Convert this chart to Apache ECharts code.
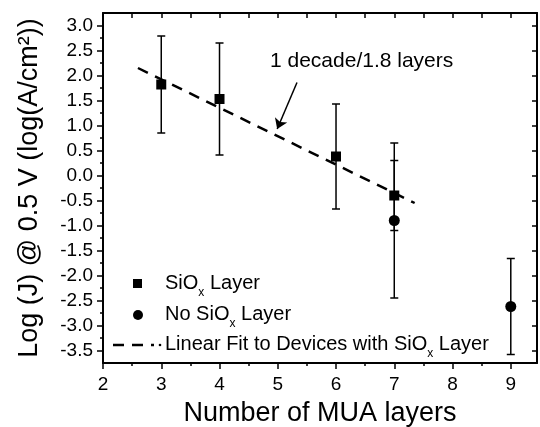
<!DOCTYPE html>
<html>
<head>
<meta charset="utf-8">
<script src="https://cdn.jsdelivr.net/npm/echarts@6/dist/echarts.min.js"></script>
<style>
  html, body { margin: 0; padding: 0; background: #fff; }
  #chart { width: 540px; height: 427px; }
</style>
</head>
<body>
<div id="chart"></div>
<script>
// devices with SiOx layer
var sioxLayers = [3, 4, 6, 7];
var sioxJ = [1.82, 1.53, 0.38, -0.40];
var sioxErr = [0.97, 1.12, 1.05, 0.70];
// devices without SiOx layer
var noSioxLayers = [7, 9];
var noSioxJ = [-0.90, -2.62];
var noSioxErr = [1.55, 0.96];
// linear fit (1 decade / 1.8 layers)
var fitLayers = [2.6, 7.35];
var fitJ = [2.15, -0.55];
// annotation arrow
var arrowFrom = [5.33, 1.86];
var arrowTo = [4.99, 0.93];
// ticks
var xTicks = [2, 3, 4, 5, 6, 7, 8, 9];
var xMinorTicks = [2.5, 3.5, 4.5, 5.5, 6.5, 7.5, 8.5];
var yTicks = [-3.5, -3.0, -2.5, -2.0, -1.5, -1.0, -0.5, 0.0, 0.5, 1.0, 1.5, 2.0, 2.5, 3.0];
var yMinorTicks = [-3.25, -2.75, -2.25, -1.75, -1.25, -0.75, -0.25, 0.25, 0.75, 1.25, 1.75, 2.25, 2.75];

var font = 'Liberation Sans, Arial, sans-serif';
var xMin = 2, xMax = 9.45, yMin = -3.75, yMax = 3.25;

function errorBars(xs, ys, errs) {
  return {
    type: 'custom',
    data: xs.map(function (x, i) { return [x, ys[i] - errs[i], ys[i] + errs[i]]; }),
    encode: { x: 0, y: [1, 2] },
    z: 1,
    renderItem: function (params, api) {
      var lo = api.coord([api.value(0), api.value(1)]);
      var hi = api.coord([api.value(0), api.value(2)]);
      var w = 4;
      var st = { stroke: '#000', lineWidth: 1.5 };
      return {
        type: 'group',
        children: [
          { type: 'line', shape: { x1: lo[0], y1: lo[1], x2: hi[0], y2: hi[1] }, style: st },
          { type: 'line', shape: { x1: lo[0] - w, y1: lo[1], x2: lo[0] + w, y2: lo[1] }, style: st },
          { type: 'line', shape: { x1: hi[0] - w, y1: hi[1], x2: hi[0] + w, y2: hi[1] }, style: st }
        ]
      };
    }
  };
}

function pairs(xs, ys) {
  return xs.map(function (x, i) { return [x, ys[i]]; });
}

var legendRich = {
  a: { fontSize: 20, fontFamily: font, color: '#000', lineHeight: 32 },
  s: { fontSize: 12, fontFamily: font, color: '#000', lineHeight: 12, verticalAlign: 'bottom' }
};

var myChart = echarts.init(document.getElementById('chart'));
var option = {
  animation: false,
  grid: { left: 103, right: 3, top: 13, bottom: 64, outerBoundsMode: 'none' },
  xAxis: [{
    type: 'value', min: xMin, max: xMax, position: 'bottom',
    axisLine: { onZero: false, lineStyle: { color: '#000', width: 2 } },
    axisTick: { customValues: xTicks, length: 6, lineStyle: { color: '#000', width: 1.5 } },
    axisLabel: { customValues: xTicks, fontSize: 19, fontFamily: font, color: '#000', margin: 12 },
    splitLine: { show: false },
    name: 'Number of MUA layers', nameLocation: 'middle', nameGap: 37,
    nameTextStyle: { fontSize: 27, fontFamily: font, color: '#000' }
  }, {
    type: 'value', min: xMin, max: xMax, position: 'bottom',
    axisLine: { show: false, onZero: false },
    axisTick: { customValues: xMinorTicks, length: 3, lineStyle: { color: '#000', width: 1.5 } },
    axisLabel: { show: false },
    splitLine: { show: false }
  }, {
    type: 'value', min: xMin, max: xMax, position: 'top',
    axisLine: { onZero: false, lineStyle: { color: '#000', width: 2 } },
    axisTick: { customValues: xTicks.concat(xMinorTicks), inside: true, length: 5, lineStyle: { color: '#000', width: 1.5 } },
    axisLabel: { show: false },
    splitLine: { show: false }
  }],
  yAxis: [{
    type: 'value', min: yMin, max: yMax, position: 'left',
    axisLine: { onZero: false, lineStyle: { color: '#000', width: 2 } },
    axisTick: { customValues: yTicks, length: 6, lineStyle: { color: '#000', width: 1.5 } },
    axisLabel: {
      customValues: yTicks, fontSize: 19, fontFamily: font, color: '#000', margin: 10,
      formatter: function (v) { return v.toFixed(1); }
    },
    splitLine: { show: false },
    name: 'Log (J) @ 0.5 V (log(A/cm²))', nameLocation: 'middle', nameGap: 60,
    nameTextStyle: { fontSize: 27, fontFamily: font, color: '#000' }
  }, {
    type: 'value', min: yMin, max: yMax, position: 'left',
    axisLine: { show: false, onZero: false },
    axisTick: { customValues: yMinorTicks, length: 3, lineStyle: { color: '#000', width: 1.5 } },
    axisLabel: { show: false },
    splitLine: { show: false }
  }, {
    type: 'value', min: yMin, max: yMax, position: 'right',
    axisLine: { onZero: false, lineStyle: { color: '#000', width: 2 } },
    axisTick: { customValues: yTicks, inside: true, length: 5, lineStyle: { color: '#000', width: 1.5 } },
    axisLabel: { show: false },
    splitLine: { show: false }
  }],
  series: [
    errorBars(sioxLayers, sioxJ, sioxErr),
    errorBars(noSioxLayers, noSioxJ, noSioxErr),
    {
      name: 'Linear Fit', type: 'line', data: pairs(fitLayers, fitJ),
      symbol: 'none', z: 2,
      lineStyle: { color: '#000', width: 2.5, type: [11, 8] },
      markLine: {
        silent: true, symbol: ['none', 'arrow'], symbolSize: 10,
        label: { show: false },
        lineStyle: { color: '#000', width: 1.5, type: 'solid' },
        data: [[{ coord: arrowFrom }, { coord: arrowTo }]]
      }
    },
    {
      name: 'SiOx Layer', type: 'scatter', data: pairs(sioxLayers, sioxJ),
      symbol: 'rect', symbolSize: 10, z: 3,
      itemStyle: { color: '#000', opacity: 1 }
    },
    {
      name: 'No SiOx Layer', type: 'scatter', data: pairs(noSioxLayers, noSioxJ),
      symbol: 'circle', symbolSize: 11, z: 3,
      itemStyle: { color: '#000', opacity: 1 }
    }
  ],
  graphic: [
    {
      type: 'text', left: 270, top: 51,
      style: { text: '1 decade/1.8 layers', fontSize: 21, fontFamily: font, fill: '#000' }
    },
    // legend
    { type: 'rect', shape: { x: 133, y: 279, width: 9, height: 9 }, style: { fill: '#000' } },
    {
      type: 'text', left: 165, top: 273,
      style: { text: '{a|SiO}{s|x}{a| Layer}', rich: legendRich }
    },
    { type: 'circle', shape: { cx: 138, cy: 315, r: 5 }, style: { fill: '#000' } },
    {
      type: 'text', left: 165, top: 304,
      style: { text: '{a|No SiO}{s|x}{a| Layer}', rich: legendRich }
    },
    {
      type: 'line', shape: { x1: 113, y1: 345, x2: 154, y2: 345 },
      style: { stroke: '#000', lineWidth: 2.5, lineDash: [11, 8] }
    },
    { type: 'circle', shape: { cx: 160, cy: 345, r: 1.3 }, style: { fill: '#000' } },
    {
      type: 'text', left: 165, top: 334,
      style: { text: '{a|Linear Fit to Devices with SiO}{s|x}{a| Layer}', rich: legendRich }
    }
  ]
};
myChart.setOption(option);
</script>
</body>
</html>
